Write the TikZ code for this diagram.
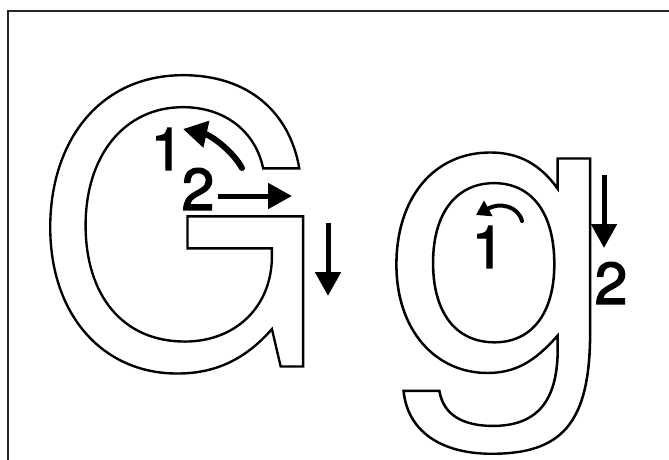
\documentclass[tikz,border=0pt]{standalone}
\usepackage{fontspec}
\usetikzlibrary{arrows.meta}
\newfontfamily\heros{TeX Gyre Heros}
\newcommand{\outlined}[1]{\special{pdf:literal direct 1 Tr 2.4 w}#1\special{pdf:literal direct 0 Tr}}
\newcommand{\heavy}[1]{\special{pdf:literal direct 2 Tr 1.2 w}#1\special{pdf:literal direct 0 Tr}}
\tikzset{
  bigG/.style={inner sep=0pt, anchor=base west, font=\heros\fontsize{390}{400}\selectfont},
  smallg/.style={inner sep=0pt, anchor=base west, font=\heros\fontsize{398}{400}\selectfont},
  digit/.style={inner sep=0pt, font=\heros\fontsize{59}{60}\selectfont},
  bigarr/.style={line width=5pt, -{Triangle[length=24pt,width=25pt]}},
  curvarr/.style={line width=6pt, line cap=round, -{Triangle[length=24pt,width=26pt]}},
  smallarr/.style={line width=4pt, line cap=round, -{Triangle[length=14pt,width=17pt]}},
}
\begin{document}
\begin{tikzpicture}[x=1pt,y=-1pt]
\useasboundingbox (0,0) rectangle (669,459);
\draw[line width=2pt, draw=black!85] (7.5,11) rectangle (670,470);
% letters
\node[bigG] (G) at (33.3,366.5) {\scalebox{0.975}[1]{\outlined{G}}};
\node[smallg] (g) at (384,367) {\scalebox{1.058}[1]{\outlined{g}}};
% G strokes
\node[digit] (G1) at (167,149) {\heavy{1}};
\node[digit] (G2) at (198,189) {\heavy{2}};
\coordinate (c1s) at (242,168);
\coordinate (c1e) at (183,129);
\draw[curvarr] (c1s) .. controls (232,150) and (210,135) .. (c1e);
\coordinate (a2s) at (218,196);
\coordinate (a2e) at (292,196);
\draw[bigarr] (a2s) -- (a2e);
\coordinate (a3s) at (328,223);
\coordinate (a3e) at (328,296);
\draw[bigarr] (a3s) -- (a3e);
% g strokes
\node[digit] (g1) at (488,247) {\heavy{1}};
\node[digit] (g2) at (611,283) {\heavy{2}};
\coordinate (b1s) at (522,221);
\coordinate (b1e) at (476,215);
\draw[smallarr] (b1s) .. controls (518,206) and (500,202) .. (b1e);
\coordinate (b2s) at (604,175);
\coordinate (b2e) at (604,248);
\draw[bigarr] (b2s) -- (b2e);
\end{tikzpicture}
\end{document}
